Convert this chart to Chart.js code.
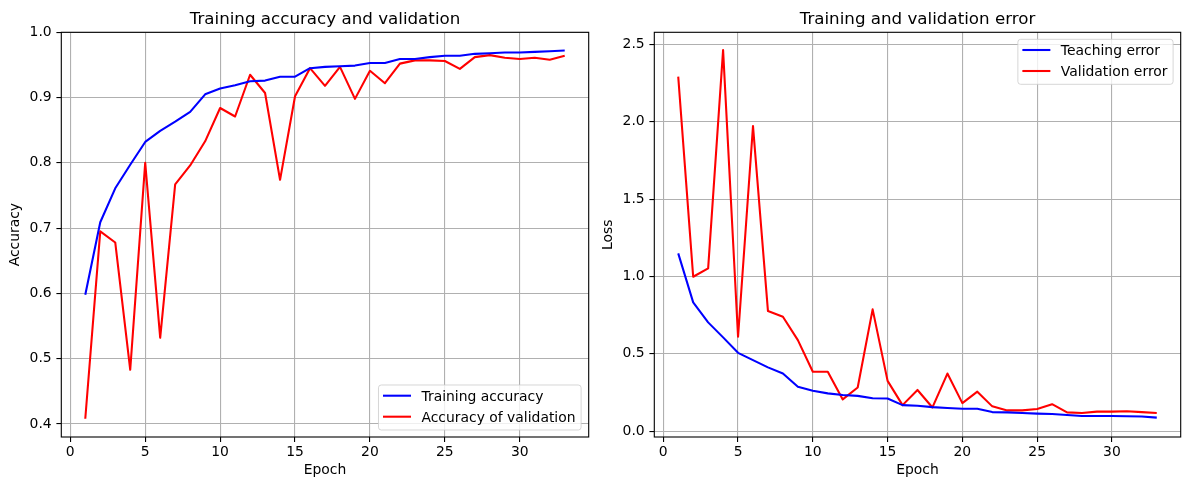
<!DOCTYPE html>
<html>
<head>
<meta charset="utf-8">
<script src="https://cdn.jsdelivr.net/npm/chart.js@4"></script>
<style>
  body { margin: 0; background: #fff; }
  #wrap { position: relative; width: 1189px; height: 490px; }
  canvas { position: absolute; top: 0; }
</style>
</head>
<body>
<div id="wrap">
  <canvas id="accChart" width="593" height="490" style="left:0px"></canvas>
  <canvas id="lossChart" width="596" height="490" style="left:593px"></canvas>
</div>
<script>
// epochs 1..33
const epochs = [1, 2, 3, 4, 5, 6, 7, 8, 9, 10, 11, 12, 13, 14, 15, 16, 17,
  18, 19, 20, 21, 22, 23, 24, 25, 26, 27, 28, 29, 30, 31, 32, 33];

const trainAcc = [0.598, 0.709, 0.761, 0.797, 0.832, 0.849, 0.863, 0.878, 0.905, 0.914, 0.919,
  0.925, 0.926, 0.932, 0.932, 0.945, 0.947, 0.948, 0.949, 0.953, 0.953, 0.959,
  0.959, 0.962, 0.964, 0.964, 0.967, 0.968, 0.969, 0.969, 0.970, 0.971, 0.972];
const valAcc = [0.408, 0.695, 0.678, 0.483, 0.800, 0.532, 0.767, 0.796, 0.833, 0.884, 0.871,
  0.935, 0.907, 0.774, 0.902, 0.945, 0.918, 0.947, 0.898, 0.941, 0.922, 0.952,
  0.957, 0.957, 0.956, 0.944, 0.962, 0.965, 0.961, 0.959, 0.961, 0.958, 0.964];

const trainLoss = [1.149, 0.832, 0.703, 0.606, 0.506, 0.459, 0.412, 0.373, 0.287, 0.261, 0.244,
  0.233, 0.228, 0.213, 0.211, 0.168, 0.164, 0.155, 0.149, 0.145, 0.145, 0.123,
  0.121, 0.117, 0.113, 0.111, 0.104, 0.098, 0.098, 0.098, 0.096, 0.094, 0.087];
const valLoss = [2.291, 0.998, 1.052, 2.463, 0.610, 1.972, 0.776, 0.739, 0.588, 0.384, 0.384,
  0.205, 0.282, 0.787, 0.325, 0.168, 0.266, 0.153, 0.372, 0.181, 0.255, 0.160,
  0.134, 0.134, 0.143, 0.174, 0.121, 0.117, 0.126, 0.126, 0.128, 0.123, 0.117];

const epochTicks = [0, 5, 10, 15, 20, 25, 30];
const accTicks = [0.4, 0.5, 0.6, 0.7, 0.8, 0.9, 1.0];
const lossTicks = [0.0, 0.5, 1.0, 1.5, 2.0, 2.5];

const FONT = '"DejaVu Sans", "Liberation Sans", sans-serif';

// frame, title and legend drawn like matplotlib
const mplLook = {
    id: 'mplLook',
    afterDatasetsDraw(chart, args, opts) {
        const ctx = chart.ctx;
        const a = chart.chartArea;
        ctx.save();
        ctx.strokeStyle = '#000';
        ctx.lineWidth = 1.1;
        ctx.strokeRect(a.left, a.top, a.right - a.left, a.bottom - a.top);

        ctx.fillStyle = '#000';
        ctx.font = '16.7px ' + FONT;
        ctx.textAlign = 'center';
        ctx.textBaseline = 'alphabetic';
        ctx.fillText(opts.title, (a.left + a.right) / 2, a.top - 8.3);

        // legend box
        ctx.font = '13.9px ' + FONT;
        const items = chart.data.datasets;
        let textW = 0;
        items.forEach(d => { textW = Math.max(textW, ctx.measureText(d.label).width); });
        const w = 4.5 + 28 + 10.5 + textW + 5.6;
        const h = 45;
        const right = a.right - 7.6;
        const left = right - w;
        const top = opts.corner === 'lower' ? a.bottom - 7 - h : a.top + 7;
        ctx.beginPath();
        ctx.roundRect(left, top, w, h, 2.8);
        ctx.fillStyle = 'rgba(255,255,255,0.8)';
        ctx.fill();
        ctx.strokeStyle = 'rgba(204,204,204,0.8)';
        ctx.lineWidth = 1;
        ctx.stroke();

        items.forEach((d, i) => {
            const y = top + 10.7 + i * 21;
            ctx.beginPath();
            ctx.moveTo(left + 4.5, y);
            ctx.lineTo(left + 32.5, y);
            ctx.strokeStyle = d.borderColor;
            ctx.lineWidth = 2.08;
            ctx.stroke();
            ctx.fillStyle = '#000';
            ctx.textAlign = 'left';
            ctx.fillText(d.label, left + 43, y + 5);
        });
        ctx.restore();
    }
};

function line(label, values, color) {
    return {
        label: label,
        data: epochs.map((e, i) => ({ x: e, y: values[i] })),
        borderColor: color,
        borderWidth: 2.08,
        borderJoinStyle: 'round',
        pointRadius: 0,
        tension: 0,
        fill: false,
    };
}

function makeChart(canvasID, datasets, title, corner, yTitle, yTicks, yMin, yMax, rightPad) {
    const grid = {
        color: '#b0b0b0',
        lineWidth: 1.1,
        tickColor: '#000',
        tickLength: 4.9,
        drawTicks: true,
    };
    const config = {
        type: 'line',
        data: { datasets: datasets },
        options: {
            responsive: false,
            animation: false,
            devicePixelRatio: 1,
            layout: { padding: { left: 0, right: rightPad, top: 32.3, bottom: 0 } },
            plugins: {
                legend: { display: false },
                tooltip: { enabled: false },
                mplLook: { title: title, corner: corner },
            },
            scales: {
                x: {
                    type: 'linear',
                    min: -0.6,
                    max: 34.6,
                    grid: grid,
                    border: { display: false },
                    ticks: {
                        color: '#000',
                        font: { family: FONT, size: 13.9 },
                        padding: 1.7,
                        maxRotation: 0,
                        callback: v => String(v),
                    },
                    title: {
                        display: true,
                        text: 'Epoch',
                        color: '#000',
                        font: { family: FONT, size: 13.9 },
                        padding: { top: 0, bottom: 11 },
                    },
                    afterBuildTicks: s => { s.ticks = epochTicks.map(v => ({ value: v })); },
                    afterFit: s => { s.height = 53; },
                },
                y: {
                    min: yMin,
                    max: yMax,
                    grid: grid,
                    border: { display: false },
                    ticks: {
                        color: '#000',
                        font: { family: FONT, size: 13.9 },
                        padding: 4.7,
                        callback: v => v.toFixed(1),
                    },
                    title: {
                        display: true,
                        text: yTitle,
                        color: '#000',
                        font: { family: FONT, size: 13.9 },
                        padding: { top: 7.4, bottom: 0 },
                    },
                    afterBuildTicks: s => { s.ticks = yTicks.map(v => ({ value: v })); },
                    afterFit: s => { s.width = 61.3; },
                },
            },
        },
        plugins: [mplLook],
    };
    return new Chart(document.getElementById(canvasID), config);
}

makeChart('accChart',
    [line('Training accuracy', trainAcc, '#0000ff'), line('Accuracy of validation', valAcc, '#ff0000')],
    'Training accuracy and validation', 'lower', 'Accuracy', accTicks, 0.38, 1.0, 4.3);

makeChart('lossChart',
    [line('Teaching error', trainLoss, '#0000ff'), line('Validation error', valLoss, '#ff0000')],
    'Training and validation error', 'upper', 'Loss', lossTicks, -0.038, 2.578, 8.3);
</script>
</body>
</html>
